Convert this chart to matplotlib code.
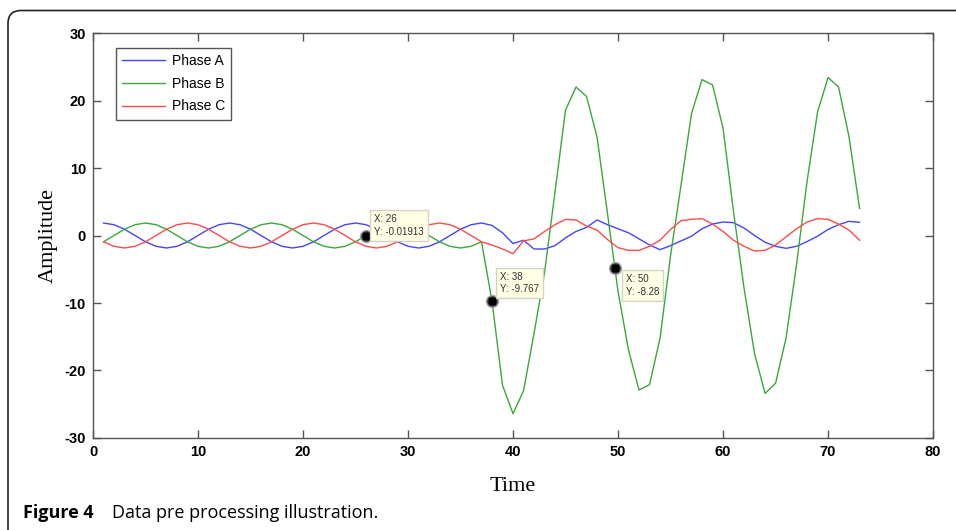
from __future__ import annotations

import matplotlib

matplotlib.use("Agg")
import matplotlib.pyplot as plt
import numpy as np
from matplotlib.patches import FancyBboxPatch

# sample index (time) and the three phase signals
time = np.arange(1, 74)

phase_a = [
    1.85, 1.60, 0.93, 0.00, -0.93, -1.60, -1.85, -1.60, -0.93, 0.00, 0.93, 1.60,
    1.85, 1.60, 0.93, 0.00, -0.93, -1.60, -1.85, -1.60, -0.93, 0.00, 0.93, 1.60,
    1.85, 1.60, 0.93, 0.00, -0.93, -1.60, -1.85, -1.60, -0.93, 0.00, 0.93, 1.60,
    1.85,
    1.50, 0.40, -1.20, -0.70, -2.00, -2.00, -1.50, -0.35, 0.60, 1.20, 2.30, 1.60,
    1.00, 0.40, -0.50, -1.40, -2.10, -1.50, -0.80, -0.10, 1.00, 1.70, 2.00, 1.90,
    1.10, 0.00, -1.00, -1.60, -1.90, -1.60, -0.90, -0.10, 0.90, 1.60, 2.10, 1.95,
]

phase_b = [
    -0.93, 0.00, 0.93, 1.60, 1.85, 1.60, 0.93, 0.00, -0.93, -1.60, -1.85, -1.60,
    -0.93, 0.00, 0.93, 1.60, 1.85, 1.60, 0.93, 0.00, -0.93, -1.60, -1.85, -1.60,
    -0.93, -0.01913, 0.93, 1.60, 1.85, 1.60, 0.93, 0.00, -0.93, -1.60, -1.85, -1.60,
    -0.93,
    -9.767, -22.2, -26.4, -23.0, -14.5, -5.5, 6.5, 18.6, 22.0, 20.6, 14.6, 3.2,
    -8.28, -17.0, -22.9, -22.1, -15.2, -3.0, 7.5, 18.1, 23.1, 22.3, 15.9, 3.5,
    -7.8, -17.5, -23.4, -21.9, -15.2, -4.3, 8.0, 18.3, 23.4, 22.0, 14.6, 4.0,
]

phase_c = [
    -0.93, -1.60, -1.85, -1.60, -0.93, 0.00, 0.93, 1.60, 1.85, 1.60, 0.93, 0.00,
    -0.93, -1.60, -1.85, -1.60, -0.93, 0.00, 0.93, 1.60, 1.85, 1.60, 0.93, 0.00,
    -0.93, -1.60, -1.85, -1.60, -0.93, 0.00, 0.93, 1.60, 1.85, 1.60, 0.93, 0.00,
    -0.93,
    -1.4, -2.0, -2.7, -0.8, -0.5, 0.6, 1.6, 2.4, 2.3, 1.4, 0.8, -0.6,
    -1.8, -2.2, -2.2, -1.6, -0.7, 0.9, 2.2, 2.4, 2.5, 1.7, 0.6, -0.7,
    -1.6, -2.3, -2.2, -1.4, -0.2, 1.0, 2.0, 2.5, 2.4, 1.7, 0.8, -0.7,
]

series_labels = ["Phase A", "Phase B", "Phase C"]

# data tips placed on Phase B
tip_x = [26, 38, 49.7]
tip_labels = ["X: 26\nY: -0.01913", "X: 38\nY: -9.767", "X: 50\nY: -8.28"]

x_ticks = [0, 10, 20, 30, 40, 50, 60, 70, 80]
y_ticks = [-30, -20, -10, 0, 10, 20, 30]


def draw_datatips(ax) -> None:
    tip_y = np.interp(tip_x, time, phase_b)
    # text offsets in pixels and alignment for each tip box
    offsets = [(8, -1, "bottom"), (8, 7, "bottom"), (11, -6, "top")]
    for x, y, label, (dx, dy, va) in zip(tip_x, tip_y, tip_labels, offsets):
        ax.plot(x, y, "o", ms=8.5, mfc="#303030", mec="#a0a0a0", mew=1.0, zorder=5)
        ax.plot(x, y, "s", ms=4.5, mfc="black", mec="black", zorder=6)
        ax.annotate(
            label, (x, y), xytext=(dx, dy), textcoords="offset pixels",
            ha="left", va=va, fontsize=7, color="#333333",
            family="Liberation Sans", linespacing=1.35, zorder=7,
            bbox=dict(boxstyle="square,pad=0.4", fc="#ffffe6", ec="#d4d4c4", lw=1),
        )


def main() -> None:
    plt.rcParams["axes.unicode_minus"] = False

    fig = plt.figure(figsize=(9.56, 5.30), dpi=100)
    ax = fig.add_axes([0.0973, 0.1736, 0.8787, 0.7641])

    colors = ["#4545ff", "#3aa83a", "#ff4a4a"]
    for values, label, color in zip([phase_a, phase_b, phase_c], series_labels, colors):
        ax.plot(time, values, color=color, lw=1.0, label=label)

    ax.set_xlim(0, 80)
    ax.set_ylim(-30, 30)
    ax.set_xticks(x_ticks)
    ax.set_yticks(y_ticks)
    ax.tick_params(direction="in", top=True, right=True, length=5.8, width=1,
                   color="#555555", labelsize=10.5, pad=5)
    for lab in ax.get_xticklabels() + ax.get_yticklabels():
        lab.set_fontweight("bold")
        lab.set_family("Liberation Sans")
    for spine in ax.spines.values():
        spine.set_color("#555555")
        spine.set_linewidth(1)

    ax.set_xlabel("Time", family="Liberation Serif", fontsize=16, labelpad=13)
    ax.set_ylabel("Amplitude", family="Liberation Serif", fontsize=16, labelpad=5)

    leg = ax.legend(loc="upper left", bbox_to_anchor=(0.0274, 0.963), borderaxespad=0,
                    fancybox=False, edgecolor="#555555", framealpha=1,
                    prop={"family": "Liberation Sans", "size": 10},
                    handlelength=3.1, handletextpad=0.45, labelspacing=0.62,
                    borderpad=0.45)
    leg.get_frame().set_linewidth(1)

    draw_datatips(ax)

    # rounded page frame (only top and left edges visible)
    frame = FancyBboxPatch((0.08, -0.5), 10, 5.30 - 0.105 + 0.5,
                           boxstyle="round,pad=0,rounding_size=0.13",
                           transform=fig.dpi_scale_trans, fill=False,
                           ec="#222222", lw=1.2)
    fig.patches.append(frame)

    fig.text(0.024, 0.022, "Figure 4", family="Open Sans", fontweight="bold",
             fontsize=13, ha="left", va="baseline")
    fig.text(0.117, 0.022, "Data pre processing illustration.", family="Open Sans",
             fontsize=13, ha="left", va="baseline")

    fig.savefig("out.png", dpi=100)
    plt.close(fig)


if __name__ == "__main__":
    main()
